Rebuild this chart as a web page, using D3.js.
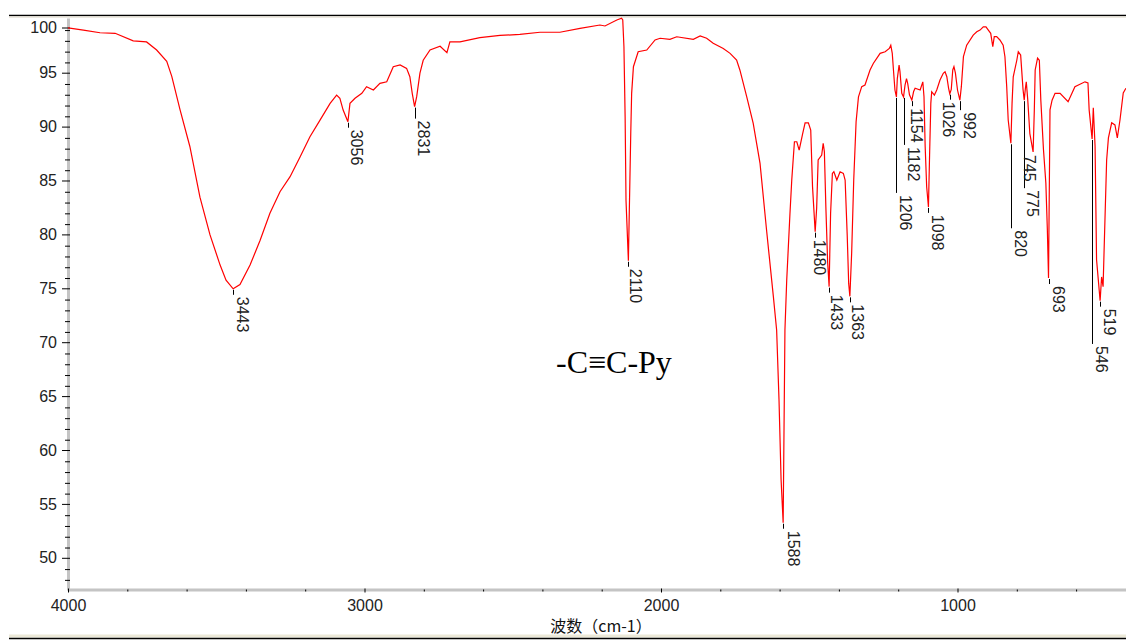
<!DOCTYPE html>
<html>
<head>
<meta charset="utf-8">
<script src="https://cdn.jsdelivr.net/npm/d3@7"></script>
<style>
body { margin: 0; background: #fff; }
svg { display: block; font-family: "Liberation Sans", Arial, sans-serif; }
</style>
</head>
<body>
<div id="chart"></div>
<script>
// spectrum (cm-1 / %T)
var wavenumber = [4000,3948,3892,3841,3780,3735,3701,3667,3650,3622,3589,3555,3521,3487,3467,3443,3420,3386,3352,3319,3285,3251,
  3217,3184,3150,3116,3094,3083,3072,3056,3049,3032,3009,2993,2970,2948,2925,2903,2880,2858,2847,2839,2831,2824,2813,2802,
  2779,2745,2722,2712,2678,2611,2543,2476,2408,2341,2273,2206,2189,2149,2133,2129,2125,2121,2118,2110,2106,2102,2099,2093,
  2077,2048,2020,2003,1970,1947,1891,1868,1846,1824,1790,1767,1745,1734,1711,1689,1666,1644,1621,1610,1602,1595,1588,1582,
  1576,1565,1559,1550,1542,1534,1522,1514,1503,1495,1489,1480,1475,1470,1458,1453,1449,1444,1438,1433,1428,1422,1417,1407,
  1396,1385,1379,1372,1367,1363,1357,1350,1342,1334,1323,1312,1295,1284,1261,1244,1230,1225,1220,1216,1211,1206,1203,1197,
  1194,1188,1182,1177,1172,1168,1162,1154,1148,1143,1126,1117,1113,1109,1104,1098,1094,1090,1087,1078,1070,1059,1048,1042,
  1036,1030,1026,1021,1016,1012,1007,1000,992,987,980,969,947,935,924,913,904,896,888,881,876,868,857,846,840,834,829,820,
  816,812,800,795,787,779,775,771,768,763,756,745,741,738,730,724,719,710,702,697,693,688,681,671,654,627,604,570,560,556,
  546,542,536,531,519,514,509,497,491,480,469,461,452,441,432];
var transmittance = [99.2,99.0,98.75,98.7,98.0,97.9,97.15,96.1,94.7,91.6,88.2,83.5,80.0,77.2,75.8,75.0,75.4,77.2,79.5,82.0,84.0,85.4,
  87.25,89.1,90.65,92.2,92.97,92.67,91.58,90.5,92.2,92.67,93.13,93.75,93.44,94.06,94.2,95.6,95.76,95.45,94.67,93.13,91.9,92.82,95.0,96.2,
  97.15,97.5,96.9,97.9,97.9,98.3,98.5,98.6,98.8,98.8,99.16,99.47,99.38,99.94,100.1,99.94,97.46,90.96,83.2,77.6,83.5,89.42,93.13,95.6,
  96.99,97.15,98.08,98.24,98.14,98.38,98.14,98.45,98.24,97.77,97.3,96.84,96.22,95.3,92.82,90.35,86.64,80.45,74.27,71.18,64.7,57.3,53.3,71.18,
  75.8,82.0,85.1,88.64,88.64,87.87,89.42,90.4,90.4,89.73,84.5,80.3,82.5,86.95,87.41,88.5,87.72,82.6,77.5,75.2,82.0,85.7,85.86,85.09,
  85.86,85.7,85.09,80.0,75.5,74.3,78.3,85.1,90.5,92.8,93.75,93.9,95.3,95.9,96.84,96.99,97.3,97.6,96.84,95.3,93.44,92.8,94.5,95.76,
  95.14,93.13,92.8,93.9,94.5,94.06,93.0,92.5,93.3,93.6,93.44,94.2,92.82,88.18,84.47,82.6,87.6,92.2,93.28,92.97,93.44,94.37,94.99,95.14,
  94.67,93.6,93.1,93.5,95.3,95.6,95.0,93.44,92.5,93.75,96.53,97.6,98.53,98.84,99.0,99.3,99.3,99.0,98.7,97.46,98.39,98.39,98.08,97.6,96.53,93.75,90.66,88.5,
  92.2,94.67,96.2,96.99,96.68,93.5,92.5,93.6,94.2,92.5,89.4,87.7,91.5,95.3,96.4,96.2,92.5,87.9,84.8,80.5,76.0,91.6,92.5,93.13,93.13,92.35,93.75,94.2,94.1,91.6,
  88.9,91.8,88.2,77.7,73.9,76.1,75.2,86.95,89.0,90.4,90.2,89.0,90.66,93.16,93.6];

var peakLabels = [3443,3056,2831,2110,1588,1480,1433,1363,1206,1182,1154,1098,1026,992,820,775,745,693,546,519];
var yMajorTicks = [50,55,60,65,70,75,80,85,90,95,100];
var yMinorTicks = d3.range(48,100).filter(function(v){ return v % 5 !== 0; });
var xMajorTicks = [4000,3000,2000,1000];
var xMinorTicks = d3.range(3800,500,-200).filter(function(v){ return v % 1000 !== 0; });
var xTitle = "波数（cm-1）";
var compound = "-C≡C-Py";

// label placement tweaks where the labeller pushed text down / sideways
var labelDrop = {2831:14, 1206:98, 1182:50, 992:12, 820:87, 775:90, 745:3, 546:207};
var labelDx = {1026:-8, 1480:-2, 745:-10, 1154:-2, 1433:1, 1363:1, 2110:1, 3056:2, 2831:2, 775:2, 1588:4};

var W = 1126, H = 640;
var TOP = 18, BOTTOM = 590, LEFT = 68;

var svg = d3.select("#chart").append("svg")
  .attr("width", W)
  .attr("height", H);

var x = d3.scaleLinear().domain([4000, 400]).range([LEFT, LEFT + 3600 * 0.2965]);
var y = d3.scaleLinear().domain([47.06, 100.12]).range([BOTTOM, TOP]);

// window frame lines
svg.append("line").attr("x1", 9).attr("x2", W).attr("y1", 15.5).attr("y2", 15.5)
  .attr("stroke", "#000").attr("stroke-width", 1.5);
svg.append("line").attr("x1", 9).attr("x2", W).attr("y1", 17).attr("y2", 17)
  .attr("stroke", "#e4e1d6").attr("stroke-width", 1.5);
svg.append("rect").attr("x", 9).attr("y", 634.5).attr("width", W - 9).attr("height", 3)
  .attr("fill", "#ece9d8");
svg.append("line").attr("x1", 9).attr("x2", W).attr("y1", 638.5).attr("y2", 638.5)
  .attr("stroke", "#000").attr("stroke-width", 1.5);

// y axis
var gyMinor = svg.append("g").attr("transform", "translate(" + LEFT + ",0)")
  .call(d3.axisLeft(y).tickValues(yMinorTicks).tickSize(4).tickSizeOuter(0).tickFormat(""));
gyMinor.select(".domain").attr("stroke", "#c4c4c4").attr("stroke-width", 3);
gyMinor.selectAll(".tick line").attr("x1", 2).attr("x2", -3).attr("stroke", "#000");

var gy = svg.append("g").attr("transform", "translate(" + LEFT + ",0)")
  .call(d3.axisLeft(y).tickValues(yMajorTicks).tickSize(6).tickSizeOuter(0).tickFormat(d3.format("d")));
gy.select(".domain").remove();
gy.selectAll(".tick line").attr("x1", 2).attr("x2", -6).attr("stroke", "#000");
gy.selectAll(".tick text").attr("x", -11).attr("font-size", 16)
  .attr("font-family", "Liberation Sans, Arial, sans-serif").attr("fill", "#222");
gy.selectAll(".tick").attr("transform", function(d) {
  return "translate(0," + Math.max(y(d), TOP + 10) + ")";
});

// x axis
var gxMinor = svg.append("g").attr("transform", "translate(0," + (BOTTOM - 0.5) + ")")
  .call(d3.axisBottom(x).tickValues(xMinorTicks).tickSize(2).tickSizeOuter(0).tickFormat(""));
gxMinor.select(".domain").attr("stroke", "#c4c4c4").attr("stroke-width", 3);
gxMinor.selectAll(".tick line").attr("y1", 0).attr("stroke", "#000");

var gx = svg.append("g").attr("transform", "translate(0," + (BOTTOM - 0.5) + ")")
  .call(d3.axisBottom(x).tickValues(xMajorTicks).tickSize(3).tickSizeOuter(0).tickFormat(d3.format("d")));
gx.select(".domain").remove();
gx.selectAll(".tick line").attr("y1", -1).attr("stroke", "#000");
gx.selectAll(".tick text").attr("y", 10).attr("font-size", 16)
  .attr("font-family", "Liberation Sans, Arial, sans-serif").attr("fill", "#222");

svg.append("text")
  .attr("x", 601).attr("y", 632)
  .attr("text-anchor", "middle")
  .attr("font-family", "Noto Sans CJK SC, sans-serif")
  .attr("font-size", 16)
  .attr("fill", "#111")
  .text(xTitle);

// spectrum
svg.append("clipPath").attr("id", "plotclip")
  .append("rect").attr("x", LEFT).attr("y", 0).attr("width", W - LEFT).attr("height", BOTTOM);

var line = d3.line()
  .x(function(d) { return x(d[0]); })
  .y(function(d) { return y(d[1]); });

var spectrum = wavenumber.map(function(w, i) { return [w, transmittance[i]]; });

svg.append("path")
  .datum(spectrum)
  .attr("clip-path", "url(#plotclip)")
  .attr("fill", "none")
  .attr("stroke", "#ff0000")
  .attr("stroke-width", 1.2)
  .attr("d", line);

// peak labels
var peaks = svg.append("g").attr("class", "peaks");
peakLabels.forEach(function(w) {
  var v = transmittance[wavenumber.indexOf(w)];
  var px = Math.round(x(w)) + 0.5;
  var py = y(v);
  var top = py + (labelDrop[w] || 8);
  var dx = (w in labelDx) ? labelDx[w] : 3;

  peaks.append("line")
    .attr("x1", px).attr("x2", px)
    .attr("y1", py + 1).attr("y2", top - 2)
    .attr("stroke", "#000").attr("stroke-width", 1);

  peaks.append("text")
    .attr("transform", "translate(" + (px + dx) + "," + top + ") rotate(90)")
    .attr("font-size", 16)
    .attr("fill", "#222")
    .text(w);
});

svg.append("text")
  .attr("x", 556).attr("y", 373)
  .attr("font-family", "Liberation Serif, Times New Roman, serif")
  .attr("font-size", 32)
  .attr("fill", "#000")
  .text(compound);
</script>
</body>
</html>
